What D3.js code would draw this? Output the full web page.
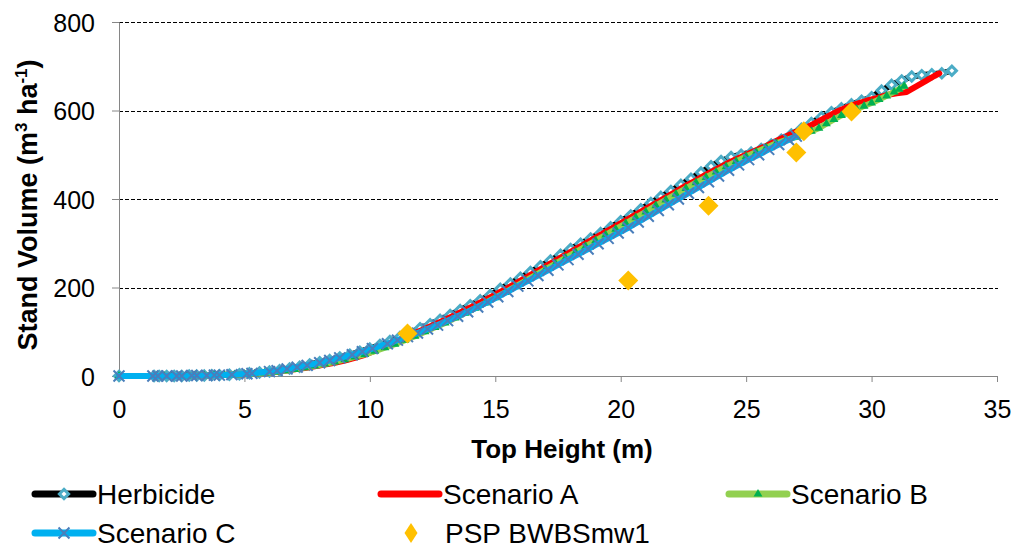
<!DOCTYPE html>
<html>
<head>
<meta charset="utf-8">
<script src="https://cdn.jsdelivr.net/npm/d3@7"></script>
<style>
  body { margin: 0; background: #fff; }
  svg { display: block; font-family: "Liberation Sans", Arial, sans-serif; }
</style>
</head>
<body>
<svg id="chart"></svg>
<script>
const WIDTH = 1016
const HEIGHT = 549
const PLOT = { left: 119, right: 997, top: 22, bottom: 376 }

// Herbicide
const herbH = [0, 1.4, 1.6, 1.9, 2.2, 2.5, 2.8, 3.1, 3.4, 3.7, 4.0, 4.4, 4.8, 5.2, 5.6, 6.0, 6.4, 6.8, 7.2, 7.6,
  8.0, 8.4, 8.8, 9.2, 9.6, 10.0, 10.4, 10.8, 11.2, 11.6, 12.0, 12.4, 12.8, 13.2, 13.6, 14.0, 14.4, 14.8, 15.2, 15.6,
  16.0, 16.4, 16.8, 17.2, 17.6, 18.0, 18.4, 18.8, 19.2, 19.6, 20.0, 20.4, 20.8, 21.2, 21.6, 22.0, 22.4, 22.8, 23.2, 23.6,
  24.0, 24.4, 24.8, 25.2, 25.6, 26.0, 26.4, 26.8, 27.2, 27.6, 28.0, 28.4, 28.8, 29.2, 29.6, 30.0, 30.4, 30.8, 31.2, 31.6,
  32.0, 32.4, 32.8, 33.2]
const herbV = [0, 0, 0, 0, 0, 0, 1, 1, 1, 2, 2, 3, 4, 6, 8, 10, 13, 17, 21, 26,
  31, 36, 42, 48, 55, 62, 70, 79, 88, 97, 108, 117, 127, 138, 149, 160, 171, 183, 197, 209,
  222, 235, 248, 261, 274, 287, 299, 311, 323, 336, 350, 363, 377, 391, 405, 418, 432, 446, 460, 474,
  486, 495, 500, 505, 513, 523, 534, 546, 559, 572, 585, 596, 605, 614, 622, 630, 645, 658, 668, 677,
  680, 682, 684, 690]

// Scenario A
const aH = [0, 1.4, 1.8, 2.2, 2.6, 3.0, 3.4, 3.8, 4.2, 4.6, 5.0, 5.4, 5.8, 6.2, 6.6, 7.0, 7.4, 7.8, 8.2, 8.6,
  9.0, 9.4, 9.8, 10.2, 10.6, 11.0, 11.4, 11.8, 12.2, 12.6, 13.0, 13.4, 13.8, 14.2, 14.6, 15.0, 15.4, 15.8, 16.2, 16.6,
  17.0, 17.4, 17.8, 18.2, 18.6, 19.0, 19.4, 19.8, 20.2, 20.6, 21.0, 21.4, 21.8, 22.2, 22.6, 23.0, 23.4, 23.8, 24.2, 24.6,
  25.0, 25.4, 25.8, 26.2, 26.6, 27.0, 27.4, 27.8, 28.2, 28.6, 29.0, 29.4, 29.8, 30.2, 30.6, 31.0, 31.4, 31.8, 32.2, 32.5, 32.7]
const aV = [0, 0, 0, 0, 0, 1, 1, 2, 2, 3, 4, 5, 7, 9, 12, 15, 18, 22, 26, 30,
  35, 41, 48, 57, 67, 77, 87, 97, 107, 117, 127, 138, 149, 160, 172, 184, 196, 209, 222, 235,
  248, 261, 274, 287, 300, 313, 326, 339, 352, 365, 378, 391, 404, 417, 430, 442, 455, 467, 479, 490,
  500, 510, 520, 531, 542, 552, 561, 573, 585, 597, 607, 615, 622, 628, 635, 639, 642, 655, 668, 678, 684]

// Scenario B
const bH = [0, 1.5, 1.8, 2.1, 2.4, 2.7, 3.0, 3.4, 3.8, 4.2, 4.6, 5.0, 5.4, 5.8, 6.2, 6.6, 7.0, 7.4, 7.8, 8.2,
  8.6, 9.0, 9.4, 9.8, 10.2, 10.6, 11.0, 11.4, 11.8, 12.2, 12.6, 13.0, 13.4, 13.8, 14.2, 14.6, 15.0, 15.4, 15.8, 16.2,
  16.6, 17.0, 17.4, 17.8, 18.2, 18.6, 19.0, 19.4, 19.8, 20.2, 20.6, 21.0, 21.4, 21.8, 22.2, 22.6, 23.0, 23.4, 23.8, 24.2,
  24.6, 25.0, 25.4, 25.8, 26.2, 26.6, 27.0, 27.3, 27.6, 27.9, 28.2, 28.5, 28.8, 29.1, 29.4, 29.7, 30.0, 30.3, 30.6, 30.9,
  31.1, 31.3]
const bV = [0, 0, 0, 0, 0, 0, 1, 1, 2, 2, 3, 4, 5, 7, 9, 12, 15, 19, 23, 27,
  32, 37, 43, 49, 56, 64, 72, 81, 90, 100, 110, 120, 131, 142, 153, 165, 177, 189, 202, 215,
  228, 241, 254, 267, 280, 293, 306, 319, 332, 345, 358, 371, 385, 398, 411, 424, 437, 449, 461, 473,
  485, 496, 506, 516, 526, 534, 540, 546, 553, 560, 570, 580, 589, 596, 603, 610, 617, 625, 633, 642,
  648, 655]

// Scenario C
const cH = [0, 1.35, 1.55, 1.9, 2.3, 2.5, 2.9, 3.1, 3.5, 3.8, 4.0, 4.5, 5.1, 5.3, 6.0, 6.3, 6.7, 7.1, 7.5, 8.0,
  8.4, 8.8, 9.3, 9.7, 10.1, 10.7, 11.1, 11.5, 11.9, 12.3, 12.7, 13.1, 13.5, 13.9, 14.3, 14.7, 15.1, 15.5, 15.9, 16.3,
  16.7, 17.1, 17.5, 17.9, 18.3, 18.7, 19.1, 19.5, 19.9, 20.3, 20.7, 21.1, 21.5, 21.9, 22.3, 22.7, 23.1, 23.5, 23.9, 24.3,
  24.7, 25.1, 25.5, 25.9, 26.3, 26.7, 27.0]
const cV = [0, 0, 0, 0, 0, 0, 1, 1, 1, 2, 2, 3, 5, 6, 10, 12, 16, 20, 24, 30,
  35, 41, 48, 55, 62, 73, 81, 89, 97, 106, 115, 125, 135, 145, 156, 167, 179, 191, 203, 215,
  227, 239, 251, 263, 275, 287, 299, 311, 323, 335, 348, 361, 374, 387, 400, 413, 426, 439, 452, 465,
  477, 489, 500, 512, 523, 534, 542]

// PSP BWBSmw1 observations
const pspH = [11.5, 20.3, 23.5, 27.0, 27.3, 29.2]
const pspV = [96, 216, 385, 505, 553, 598]

const xTicks = [0, 5, 10, 15, 20, 25, 30, 35]
const yTicks = [0, 200, 400, 600, 800]

const svg = d3.select("#chart").attr("width", WIDTH).attr("height", HEIGHT)

const x = d3.scaleLinear().domain([0, 35]).range([PLOT.left, PLOT.right])
const y = d3.scaleLinear().domain([0, 800]).range([PLOT.bottom, PLOT.top])

const zip = (hs, vs) => hs.map((h, i) => ({ h: h, v: vs[i] }))

// gridlines
svg.append("g")
  .selectAll("line")
  .data(yTicks.filter(t => t > 0))
  .enter().append("line")
  .attr("x1", PLOT.left).attr("x2", PLOT.right + 1)
  .attr("y1", d => Math.round(y(d)) + 0.5).attr("y2", d => Math.round(y(d)) + 0.5)
  .attr("stroke", "#000").attr("stroke-width", 1).attr("stroke-dasharray", "4,2")

// axes
let xAxis = d3.axisBottom(x).tickValues(xTicks).tickSize(6).tickFormat(d3.format("d"))
let xg = svg.append("g").attr("transform", `translate(0,${PLOT.bottom})`).call(xAxis)
xg.select(".domain").attr("stroke", "#868686")
xg.selectAll(".tick line").attr("stroke", "#868686")
xg.selectAll(".tick text").attr("font-size", 25).attr("fill", "#000").attr("dy", 0).attr("y", 42)
  .attr("font-family", "Liberation Sans, Arial, sans-serif")

let yAxis = d3.axisLeft(y).tickValues(yTicks).tickSize(7).tickFormat(d3.format("d"))
let yg = svg.append("g").attr("transform", `translate(${PLOT.left},0)`).call(yAxis)
yg.select(".domain").attr("stroke", "#868686")
yg.selectAll(".tick line").attr("stroke", "#868686")
yg.selectAll(".tick text").attr("font-size", 25).attr("fill", "#000").attr("x", -24).attr("dy", "0.36em")
  .attr("font-family", "Liberation Sans, Arial, sans-serif")

// axis titles
svg.append("text")
  .attr("x", (PLOT.left + PLOT.right) / 2 + 4).attr("y", 458)
  .attr("text-anchor", "middle").attr("font-size", 26).attr("font-weight", "bold")
  .text("Top Height (m)")

let yt = svg.append("text")
  .attr("transform", `translate(37,205) rotate(-90)`)
  .attr("text-anchor", "middle").attr("font-size", 27).attr("font-weight", "bold")
yt.append("tspan").text("Stand Volume (m")
yt.append("tspan").attr("font-size", 17).attr("dy", -10).text("3")
yt.append("tspan").attr("dy", 10).text(" ha")
yt.append("tspan").attr("font-size", 17).attr("dy", -10).text("-1")
yt.append("tspan").attr("dy", 10).text(")")

// series drawing
const line = d3.line().x(d => x(d.h)).y(d => y(d.v))

// square diamond path of half-diagonal r
const rhombus = r => `M0,${-r}L${r},0L0,${r}L${-r},0Z`
const triangle = d3.symbol().type(d3.symbolTriangle)
const cross = d3.symbol().type(d3.symbolX)

function drawSeries(data, color, marker) {
  let g = svg.append("g")
  g.append("path").datum(data)
    .attr("d", line)
    .attr("fill", "none").attr("stroke", color).attr("stroke-width", 6)
    .attr("stroke-linejoin", "round").attr("stroke-linecap", "round")
  if (marker) {
    g.selectAll("path.m").data(data).enter().append("path").attr("class", "m")
      .attr("transform", d => `translate(${x(d.h)},${y(d.v)})`)
      .each(function() { marker(d3.select(this)) })
  }
}

const herbMarker = s => s.attr("d", rhombus(4.6)).attr("fill", "#fff").attr("stroke", "#4BACC6").attr("stroke-width", 3)
const bMarker = s => s.attr("d", triangle.size(34)()).attr("fill", "#00B050")
const cMarker = s => s.attr("d", cross.size(80)()).attr("fill", "none").attr("stroke", "#4A7EBB").attr("stroke-width", 2)

drawSeries(zip(herbH, herbV), "#000", herbMarker)
drawSeries(zip(aH, aV), "#FF0000", null)
drawSeries(zip(bH, bV), "#92D050", bMarker)
drawSeries(zip(cH, cV), "#00B0F0", cMarker)

svg.append("g").selectAll("path")
  .data(zip(pspH, pspV)).enter().append("path")
  .attr("transform", d => `translate(${x(d.h)},${y(d.v)})`)
  .attr("d", rhombus(10))
  .attr("fill", "#FFC000")

// legend
const legendNames = ["Herbicide", "Scenario A", "Scenario B", "Scenario C", "PSP BWBSmw1"]
const legendColors = ["#000", "#FF0000", "#92D050", "#00B0F0", null]
const legendMarkers = [herbMarker, null, bMarker, cMarker, null]
const legendPos = [[35, 494], [381, 494], [729, 494], [35, 533], [381, 533]]

let lg = svg.append("g")
legendNames.forEach((name, i) => {
  let [lx, ly] = legendPos[i]
  if (legendColors[i]) {
    lg.append("line").attr("x1", lx).attr("x2", lx + 58).attr("y1", ly).attr("y2", ly)
      .attr("stroke", legendColors[i]).attr("stroke-width", 7).attr("stroke-linecap", "round")
    if (legendMarkers[i]) {
      lg.append("path").attr("transform", `translate(${lx + 29},${ly})`).call(legendMarkers[i])
    }
  } else {
    lg.append("path").attr("transform", `translate(${lx + 30},${ly}) scale(0.65,1)`)
      .attr("d", rhombus(10)).attr("fill", "#FFC000")
  }
  lg.append("text").attr("x", name.startsWith("PSP") ? lx + 64 : lx + 62).attr("y", ly + 9.5)
    .attr("font-size", 28).attr("fill", "#000").text(name)
})
</script>
</body>
</html>
